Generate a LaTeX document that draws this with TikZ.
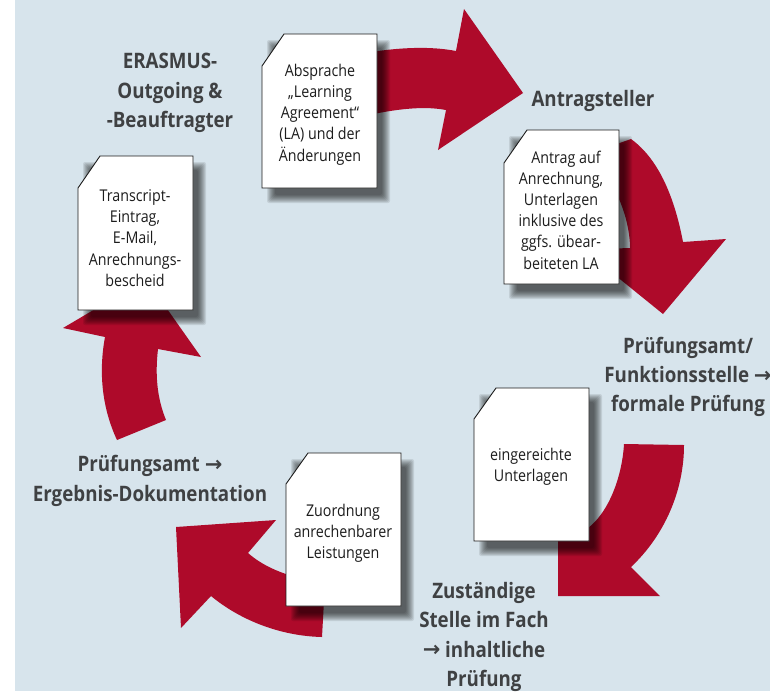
\documentclass[tikz,border=0pt]{standalone}
\usepackage{fontspec}
\setmainfont[FakeStretch=0.88]{Open Sans}
\newfontfamily\arrowfont{DejaVu Sans}
\definecolor{panel}{HTML}{D7E4EC}
\definecolor{crimson}{HTML}{AE0A2A}
\definecolor{labelgrey}{HTML}{3F4143}
\definecolor{docink}{HTML}{1C1C1C}
\newcommand{\arr}{{\arrowfont\bfseries\fontsize{21}{21}\selectfont\raisebox{0.5pt}{→}}}
\newcommand{\docsheet}[6]{%
  % left, top, right, bottom, cut x, cut y
  \foreach \g in {4,3,2,1,0,-1,-2,-3,-4}{
    \fill[black,opacity=0.09,rounded corners=2pt]
      (#1+9-\g,#2+10-\g) rectangle (#3+9+\g,#4+11+\g);
  }
  \draw[docsheet] (#1,#6) -- (#5,#2) -- (#3,#2) -- (#3,#4) -- (#1,#4) -- cycle;
}
\tikzset{
  x=1pt,y=-1pt,
  docsheet/.style={fill=white,draw=docink,line width=0.9pt,line join=miter},
  flow/.style={fill=crimson,draw=none},
  doctext/.style={align=center,inner sep=0pt,text=docink,font=\fontsize{16.2}{21.2}\selectfont},
  role/.style={align=center,inner sep=0pt,text=labelgrey,font=\fontsize{21.3}{29.3}\selectfont\bfseries},
}
\begin{document}
\begin{tikzpicture}
\useasboundingbox (0,0) rectangle (770,691);
\fill[white] (0,0) rectangle (770,691);
\fill[panel] (15,0) rectangle (770,691);
% arrows
\fill[flow] (340,58) .. controls (375,50) and (420,44) .. (456,51) -- (464,9) -- (523,93) -- (438,150) -- (446,110)
  .. controls (420,105) and (385,110) .. (340,122) -- cycle;
\fill[flow] (600,150) -- (631,139) .. controls (660,160) and (675,200) .. (683,242) -- (726,239) -- (663,314) -- (600,263) -- (600,249) -- (630,248)
  .. controls (630,225) and (620,190) .. (600,170) -- cycle;
\fill[flow] (624,444) -- (684,445) .. controls (684,490) and (665,535) .. (631,567) -- (660,596) -- (558,596) -- (558,530) -- (575,535)
  .. controls (605,525) and (622,480) .. (624,444) -- cycle;
\fill[flow] (322,637) .. controls (280,636) and (240,620) .. (211,596) -- (181,628) -- (176,527) -- (276,520) -- (248,553)
  .. controls (265,568) and (290,578) .. (325,583) -- cycle;
\fill[flow] (117,440) .. controls (103,410) and (98,375) .. (105,337) -- (63,328) -- (146,279) -- (201,357) -- (158,349)
  .. controls (155,375) and (157,398) .. (166,420) -- cycle;
% documents
\docsheet{262}{34}{377}{188}{284}{66}
\docsheet{504}{130}{619}{284}{527}{163}
\docsheet{474}{388}{589}{541}{496}{419}
\docsheet{286}{453}{401}{606}{308}{484}
\docsheet{78}{156}{193}{310}{100}{188}
% document texts
\node[doctext] (t1) at (320,114.5) {Absprache\\„Learning\\Agreement“\\(LA) und der\\Änderungen};
\node[doctext] (t2) at (561,210) {\hspace*{10pt}Antrag auf\\Anrechnung,\\Unterlagen\\inklusive des\\ggfs. übear-\\beiteten LA};
\node[doctext] (t3) at (531,467) {eingereichte\\Unterlagen};
\node[doctext] (t4) at (343,533) {Zuordnung\\anrechenbarer\\Leistungen};
\node[doctext] (t5) at (135,238) {Transcript-\\Eintrag,\\E-Mail,\\Anrechnungs-\\bescheid};
% role labels
\node[role] (r1) at (170,93) {ERASMUS-\\Outgoing \&\\-Beauftragter};
\node[role] (r2) at (593,101) {Antragsteller};
\node[role] (r3) at (688,377) {Prüfungsamt/\\Funktionsstelle \arr\\formale Prüfung};
\node[role] (r4) at (484,637) {Zuständige\\Stelle im Fach\\\arr{} inhaltliche\\Prüfung};
\node[role] (r5) at (150,481) {Prüfungsamt \arr\\Ergebnis-Dokumentation};
\end{tikzpicture}
\end{document}
